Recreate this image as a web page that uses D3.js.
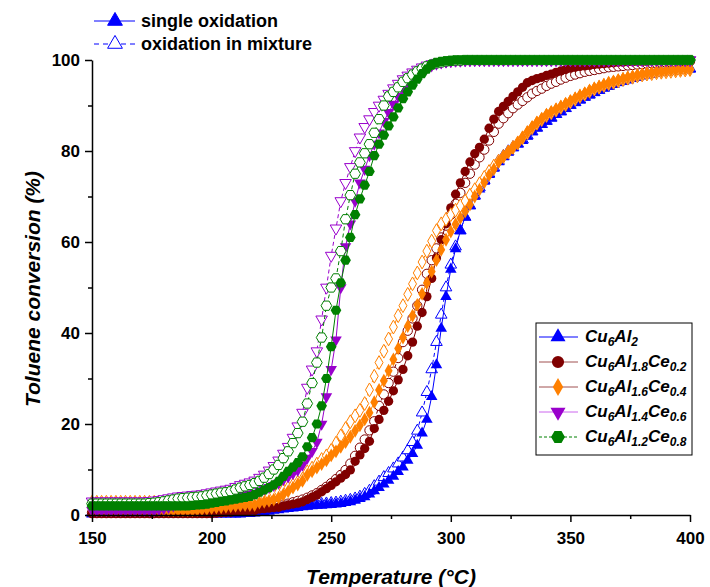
<!DOCTYPE html>
<html>
<head>
<meta charset="utf-8">
<script src="https://cdn.jsdelivr.net/npm/d3@7"></script>
<style>
  body { margin: 0; background: #fff; }
  svg text { font-family: "Liberation Sans", Arial, sans-serif; font-weight: bold; }
</style>
</head>
<body>
<svg id="chart" width="710" height="587"></svg>
<script>
// temperature grid (°C), one reading every 2 °C
const temps = d3.range(150, 401, 2);

const xTicks = [150, 200, 250, 300, 350, 400];
const xMinor = [175, 225, 275, 325, 375];
const yTicks = [0, 20, 40, 60, 80, 100];
const yMinor = [10, 30, 50, 70, 90];

// conversion (%)
const cu6al2Single = [
  0.2,0.2,0.2,0.2,0.2,0.2,0.2,0.2,0.2,0.2,
  0.2,0.2,0.2,0.2,0.2,0.2,0.2,0.2,0.2,0.2,
  0.2,0.2,0.2,0.2,0.2,0.2,0.2,0.2,0.2,0.2,
  0.2,0.2,0.3,0.3,0.4,0.5,0.6,0.8,1.0,1.1,
  1.3,1.4,1.5,1.6,1.8,1.9,2.0,2.1,2.1,2.2,
  2.3,2.4,2.5,2.7,2.9,3.2,3.6,4.0,4.6,5.3,
  6.0,6.8,7.6,8.5,9.5,10.5,12,13.5,15.3,18,
  21,26,33,41,48,54,58.5,62.5,65.5,68,
  70,71.6,73.3,74.8,76.2,77.6,78.7,79.7,80.7,81.5,
  82.3,83.2,84.2,85,85.8,86.5,87.2,88,88.6,89.3,
  90,90.6,91.2,91.8,92.3,92.8,93.3,93.8,94.2,94.6,
  95,95.3,95.6,95.9,96.2,96.5,96.7,96.9,97.1,97.3,
  97.4,97.5,97.6,97.7,97.8,98
];
const cu6al2Mix = [
  0.5,0.5,0.5,0.5,0.5,0.5,0.5,0.5,0.5,0.5,
  0.5,0.5,0.5,0.5,0.5,0.5,0.5,0.5,0.5,0.5,
  0.5,0.5,0.5,0.5,0.5,0.5,0.5,0.5,0.5,0.5,
  0.6,0.7,0.8,0.9,1.0,1.1,1.2,1.3,1.4,1.5,
  1.6,1.7,1.8,1.9,2.0,2.1,2.2,2.3,2.4,2.5,
  2.6,2.7,2.9,3.1,3.3,3.6,4.0,4.6,5.3,6.3,
  7.3,8.3,9.2,10.2,11.3,12.6,14.2,16,18.5,22.5,
  27,32,38,44,50,55,59,62.5,65.5,68,
  70.2,72,73.6,75,76.4,77.8,78.9,79.9,80.8,81.6,
  82.5,83.4,84.3,85.1,85.9,86.6,87.3,88.1,88.7,89.4,
  90.1,90.7,91.3,91.9,92.4,92.9,93.4,93.9,94.3,94.7,
  95.1,95.4,95.7,96,96.3,96.6,96.8,97,97.2,97.4,
  97.5,97.6,97.7,97.8,97.9,98.1
];
const ce02Single = [
  0.3,0.3,0.3,0.3,0.3,0.3,0.3,0.3,0.3,0.3,
  0.3,0.3,0.3,0.3,0.3,0.3,0.3,0.3,0.3,0.3,
  0.3,0.3,0.3,0.3,0.3,0.3,0.4,0.5,0.6,0.6,
  0.8,0.8,0.9,1.0,1.0,1.3,1.4,1.5,1.6,1.7,
  2.0,2.2,2.4,2.6,2.9,3.4,3.9,4.4,5.1,5.8,
  6.5,7.3,8.1,8.9,9.9,11.8,13.2,14.6,16.2,19,
  21,23,25,27.3,29.7,32,35,38,41.5,44.5,
  48,52,56.5,60.5,64,67.5,70.5,73,75.5,77.6,
  79.4,80.8,82.6,85,87,88.7,89.8,90.9,92,93,
  94,95,95.5,95.9,96.2,96.6,96.9,97.3,97.6,97.9,
  98.2,98.4,98.6,98.7,98.8,99,99.1,99.2,99.3,99.4,
  99.5,99.5,99.6,99.6,99.7,99.7,99.7,99.8,99.8,99.8,
  99.8,99.9,99.9,99.9,100,100
];
const ce02Mix = [
  0.5,0.5,0.5,0.5,0.5,0.5,0.5,0.5,0.5,0.5,
  0.5,0.5,0.5,0.5,0.5,0.5,0.5,0.5,0.5,0.5,
  0.5,0.5,0.5,0.5,0.5,0.6,0.7,0.8,0.9,1.0,
  1.1,1.2,1.3,1.4,1.5,1.6,1.7,1.8,2.0,2.1,
  2.3,2.5,2.8,3.1,3.4,3.8,4.3,4.8,5.5,6.2,
  7,7.9,8.8,9.9,11.3,13,14.8,16.6,18.6,20.6,
  24,26.5,29,31.5,34.5,38,40.5,43.2,46,49.5,
  53,56,58.6,61,63.6,66,68.4,70.8,73,75,
  77,78.6,80.3,82.3,84.2,86,87.2,88.3,89.4,90.2,
  91,91.8,92.6,93.2,93.7,94.3,94.8,95.2,95.7,96.1,
  96.5,96.8,97.1,97.4,97.6,97.8,98,98.2,98.4,98.5,
  98.6,98.7,98.8,98.9,99,99.1,99.2,99.3,99.3,99.4,
  99.4,99.5,99.5,99.6,99.6,99.7
];
const ce04Single = [
  1.0,1.0,1.0,1.0,1.0,1.0,1.0,1.0,1.0,1.0,
  1.0,1.0,1.0,1.0,1.0,1.0,1.0,1.0,1.0,1.0,
  1.0,1.0,1.1,1.2,1.3,1.5,1.6,1.7,1.8,1.9,
  2.0,2.1,2.2,2.2,2.2,2.7,2.9,3.1,3.4,3.8,
  4.5,5.2,6.0,6.7,7.5,8.8,9.6,10.4,11.2,12.0,
  13.1,14.0,15.0,16.0,17.2,18.5,19.7,21,22.5,24.8,
  27.5,29.5,31.7,34.2,36.6,39,41.5,43.8,46.2,48.6,
  51,53.5,56,58.3,60.5,62.3,63.9,65.3,66.7,68.2,
  70,71.5,73.1,74.7,76,77.6,78.8,79.8,80.8,81.8,
  83,84.2,85.3,86.3,87.1,88,88.6,89.2,89.8,90.4,
  91,91.6,92.2,92.7,93.3,93.8,94.2,94.6,95,95.3,
  95.6,95.9,96.2,96.4,96.7,96.9,97.1,97.2,97.4,97.5,
  97.6,97.7,97.8,97.9,98,98
];
const ce04Mix = [
  2.8,2.8,2.8,2.8,2.8,2.8,2.8,2.8,2.8,2.8,
  2.8,2.8,2.8,2.8,2.8,2.8,2.8,2.8,2.8,2.8,
  2.8,2.8,2.9,2.9,3.0,3.1,3.2,3.3,3.4,3.4,
  3.5,3.6,3.6,3.7,3.8,4.0,4.2,4.4,4.7,5.0,
  5.5,6.0,6.6,7.2,7.9,9.5,10.3,11.2,12.2,13.0,
  14.2,15.8,17.4,19,20.5,21.8,23,24.5,27.5,30.5,
  33.5,36,38.7,41.3,43.8,46,48.5,50.8,53.2,55.6,
  58,60.2,62.5,64,65,66,67,68,69,70.3,
  71.5,72.8,74.2,75.5,76.7,77.8,78.8,79.8,80.8,81.8,
  82.9,84,85.1,86.1,86.9,87.8,88.4,89,89.6,90.2,
  90.8,91.4,92,92.5,93.1,93.6,94,94.4,94.8,95.1,
  95.4,95.7,96,96.2,96.5,96.7,96.9,97,97.2,97.3,
  97.4,97.5,97.6,97.7,97.8,97.9
];
const ce06Single = [
  1.0,1.0,1.0,1.0,1.0,1.0,1.0,1.0,1.0,1.0,
  1.0,1.0,1.0,1.0,1.2,1.4,1.7,2.0,2.4,2.8,
  3.1,3.2,3.3,3.3,3.4,3.5,3.6,3.7,3.8,3.9,
  4.0,4.2,4.4,4.6,4.8,5.3,5.7,6.1,6.5,7.0,
  7.8,8.4,9.1,9.8,11,12.5,14,16,20,26,
  32,38.5,50,59,64,69,73,76,79,81.5,
  84,86.5,88.5,90.3,92,93.5,94.8,95.8,96.8,97.6,
  98.3,98.7,99.1,99.4,99.6,99.7,99.8,99.8,99.9,99.9,
  100,100,100,100,100,100,100,100,100,100,
  100,100,100,100,100,100,100,100,100,100,
  100,100,100,100,100,100,100,100,100,100,
  100,100,100,100,100,100,100,100,100,100,
  100,100,100,100,100,100
];
const ce06Mix = [
  3.0,3.0,3.0,3.0,3.0,3.0,3.0,3.0,3.0,3.0,
  3.0,3.0,3.1,3.2,3.3,3.5,3.7,3.9,4.1,4.2,
  4.3,4.4,4.5,4.6,4.8,5.0,5.2,5.4,5.6,5.8,
  6.2,6.6,6.9,7.2,7.6,8.2,8.9,9.8,10.8,12,
  13.5,15,17,19.5,22.5,28,32,36,43,50,
  57,63,69,73,76.5,80,83,85.3,87,88.6,
  90,91.3,92.6,93.8,94.8,95.8,96.6,97.3,97.9,98.4,
  98.8,99.1,99.4,99.6,99.7,99.8,99.9,99.9,100,100,
  100,100,100,100,100,100,100,100,100,100,
  100,100,100,100,100,100,100,100,100,100,
  100,100,100,100,100,100,100,100,100,100,
  100,100,100,100,100,100,100,100,100,100,
  100,100,100,100,100,100
];
const ce08Single = [
  2.0,2.0,2.0,2.0,2.0,2.0,2.0,2.0,2.0,2.0,
  2.0,2.0,2.0,2.0,2.0,2.0,2.0,2.0,2.0,2.0,
  2.0,2.1,2.2,2.3,2.4,2.6,2.8,3.0,3.1,3.3,
  3.5,3.7,3.9,4.1,4.5,5.0,5.5,6.0,6.6,7.4,
  8.5,9.6,10.5,11.5,12.8,15,17,20,24,30,
  37,45,51,56,61,66,69.5,72.5,75.5,79,
  81.5,83.5,85.5,87.5,89.5,91.5,93,94.5,95.8,97,
  98,99,99.5,99.7,99.8,99.9,100,100,100,100,
  100,100,100,100,100,100,100,100,100,100,
  100,100,100,100,100,100,100,100,100,100,
  100,100,100,100,100,100,100,100,100,100,
  100,100,100,100,100,100,100,100,100,100,
  100,100,100,100,100,100
];
const ce08Mix = [
  2.5,2.5,2.5,2.5,2.5,2.5,2.5,2.5,2.5,2.5,
  2.5,2.5,2.6,2.7,2.8,3.0,3.2,3.4,3.6,3.7,
  3.8,3.9,4.0,4.1,4.3,4.5,4.7,4.9,5.0,5.2,
  5.6,6.0,6.3,6.6,7.0,7.5,8.2,9.0,10,11,
  12.5,14,15.8,18,20.5,24.5,29,33.5,39,46,
  50,52,58,65,70.3,75,77.5,79.5,81.5,84,
  87,90,92,93,94,95.2,96,96.8,97.5,98.1,
  98.6,99,99.3,99.5,99.7,99.8,99.9,99.9,100,100,
  100,100,100,100,100,100,100,100,100,100,
  100,100,100,100,100,100,100,100,100,100,
  100,100,100,100,100,100,100,100,100,100,
  100,100,100,100,100,100,100,100,100,100,
  100,100,100,100,100,100
];

const catalystLabels = [
  [["Cu", 0], ["6", 1], ["Al", 0], ["2", 1]],
  [["Cu", 0], ["6", 1], ["Al", 0], ["1.8", 1], ["Ce", 0], ["0.2", 1]],
  [["Cu", 0], ["6", 1], ["Al", 0], ["1.6", 1], ["Ce", 0], ["0.4", 1]],
  [["Cu", 0], ["6", 1], ["Al", 0], ["1.4", 1], ["Ce", 0], ["0.6", 1]],
  [["Cu", 0], ["6", 1], ["Al", 0], ["1.2", 1], ["Ce", 0], ["0.8", 1]]
];
const modeLabels = ["single oxidation", "oxidation in mixture"];

const svg = d3.select("#chart");
const x = d3.scaleLinear().domain([150, 400]).range([92, 690]);
const y = d3.scaleLinear().domain([0, 100]).range([515, 60]);

// hexagon marker (not part of d3's set)
const symbolHexagon = {
  draw(context, size) {
    const r = Math.sqrt(size / (1.5 * Math.sqrt(3)));
    for (let k = 0; k < 6; k++) {
      const a = (Math.PI / 3) * k;
      if (k === 0) context.moveTo(r * Math.cos(a), r * Math.sin(a));
      else context.lineTo(r * Math.cos(a), r * Math.sin(a));
    }
    context.closePath();
  }
};

const materials = [
  { single: cu6al2Single, mix: cu6al2Mix, color: "#0000ff", legendLine: "#0000ff", shape: d3.symbolTriangle, rot: 0, size: 58, dash: null },
  { single: ce02Single, mix: ce02Mix, color: "#800000", legendLine: "#a05050", shape: d3.symbolCircle, rot: 0, size: 68, dash: null },
  { single: ce04Single, mix: ce04Mix, color: "#ff8000", legendLine: "#a05050", shape: d3.symbolDiamond, rot: 0, size: 55, dash: null },
  { single: ce06Single, mix: ce06Mix, color: "#9900cc", legendLine: "#cc66ee", shape: d3.symbolTriangle, rot: 180, size: 58, dash: null },
  { single: ce08Single, mix: ce08Mix, color: "#008000", legendLine: "#008000", shape: symbolHexagon, rot: 0, size: 74, dash: "3,2" }
];

const line = d3.line()
  .x((d, i) => x(temps[i]))
  .y((d) => y(d));

const plot = svg.append("g");

materials.forEach(function (m) {
  // mixture: dashed line, open symbols
  plot.append("path")
    .attr("d", line(m.mix))
    .attr("fill", "none")
    .attr("stroke", m.color)
    .attr("stroke-width", 1)
    .attr("stroke-dasharray", "4,3");
  plot.append("g")
    .selectAll("path")
    .data(m.mix)
    .join("path")
    .attr("d", d3.symbol().type(m.shape).size(m.size))
    .attr("transform", (d, i) => "translate(" + x(temps[i]) + "," + y(d) + ") rotate(" + m.rot + ")")
    .attr("fill", "#fff")
    .attr("stroke", m.color)
    .attr("stroke-width", 1);

  // single: solid line, filled symbols
  plot.append("path")
    .attr("d", line(m.single))
    .attr("fill", "none")
    .attr("stroke", m.color)
    .attr("stroke-width", 1);
  plot.append("g")
    .selectAll("path")
    .data(m.single)
    .join("path")
    .attr("d", d3.symbol().type(m.shape).size(m.size))
    .attr("transform", (d, i) => "translate(" + x(temps[i]) + "," + y(d) + ") rotate(" + m.rot + ")")
    .attr("fill", m.color);
});

// axes
const fontFamily = '"Liberation Sans", Arial, sans-serif';

const xAxis = svg.append("g")
  .attr("transform", "translate(0," + y(0) + ")")
  .call(d3.axisBottom(x).tickValues(xTicks).tickSize(7).tickSizeOuter(0).tickPadding(10));
svg.append("g")
  .attr("transform", "translate(0," + y(0) + ")")
  .call(d3.axisBottom(x).tickValues(xMinor).tickSize(4).tickFormat(""))
  .call((g) => g.select(".domain").remove());

const yAxis = svg.append("g")
  .attr("transform", "translate(" + x(150) + ",0)")
  .call(d3.axisLeft(y).tickValues(yTicks).tickSize(7).tickSizeOuter(0).tickPadding(5));
svg.append("g")
  .attr("transform", "translate(" + x(150) + ",0)")
  .call(d3.axisLeft(y).tickValues(yMinor).tickSize(4).tickFormat(""))
  .call((g) => g.select(".domain").remove());

svg.selectAll(".domain, .tick line").attr("stroke", "#000").attr("stroke-width", 1.5);
[xAxis, yAxis].forEach((g) =>
  g.selectAll("text")
    .attr("font-size", 17)
    .attr("font-family", fontFamily)
    .attr("font-weight", "bold")
    .attr("fill", "#000")
);

svg.append("text")
  .attr("x", 391)
  .attr("y", 584)
  .attr("text-anchor", "middle")
  .attr("font-size", 21)
  .attr("font-style", "italic")
  .text("Temperature (°C)");

svg.append("text")
  .attr("transform", "translate(40,289) rotate(-90)")
  .attr("text-anchor", "middle")
  .attr("font-size", 21)
  .attr("font-style", "italic")
  .text("Toluene conversion (%)");

// legend: line style
const modeLegend = svg.append("g");
modeLabels.forEach(function (label, i) {
  const cy = 21 + i * 23;
  modeLegend.append("line")
    .attr("x1", 94).attr("x2", 135).attr("y1", cy).attr("y2", cy)
    .attr("stroke", "#0000ff").attr("stroke-width", 1)
    .attr("stroke-dasharray", i === 0 ? null : "5,4");
  modeLegend.append("path")
    .attr("d", d3.symbol().type(d3.symbolTriangle).size(95))
    .attr("transform", "translate(115," + cy + ")")
    .attr("fill", i === 0 ? "#0000ff" : "#fff")
    .attr("stroke", "#0000ff")
    .attr("stroke-width", 1);
  modeLegend.append("text")
    .attr("x", 141).attr("y", cy + 6)
    .attr("font-size", 18)
    .text(label);
});

// legend: catalysts
const catLegend = svg.append("g");
catLegend.append("rect")
  .attr("x", 536).attr("y", 323).attr("width", 156).attr("height", 132)
  .attr("fill", "#fff").attr("stroke", "#000").attr("stroke-width", 1);
materials.forEach(function (m, i) {
  const cy = 337 + i * 25;
  catLegend.append("line")
    .attr("x1", 539).attr("x2", 578).attr("y1", cy).attr("y2", cy)
    .attr("stroke", m.legendLine).attr("stroke-width", 1)
    .attr("stroke-dasharray", m.dash);
  catLegend.append("path")
    .attr("d", d3.symbol().type(m.shape).size(m.size * 1.7))
    .attr("transform", "translate(558," + cy + ") rotate(" + m.rot + ")")
    .attr("fill", m.color);
  const t = catLegend.append("text")
    .attr("x", 585).attr("y", cy + 5)
    .attr("font-size", 17)
    .attr("font-style", "italic");
  catalystLabels[i].forEach(function (part) {
    t.append("tspan")
      .attr("font-size", part[1] ? 12 : 17)
      .attr("dy", part[1] ? 4 : (t.selectAll("tspan").size() > 1 ? -4 : 0))
      .text(part[0]);
  });
});
</script>
</body>
</html>
